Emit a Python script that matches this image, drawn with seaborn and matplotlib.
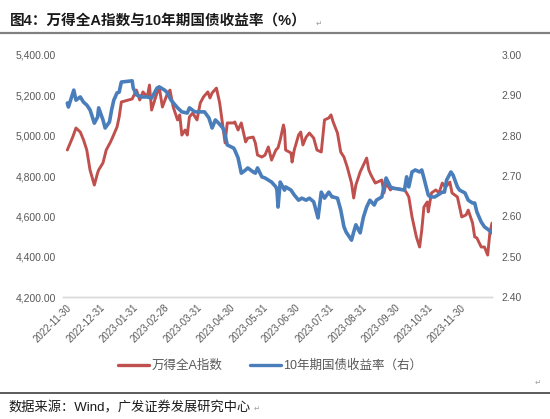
import pandas as pd
import numpy as np
import matplotlib
matplotlib.use('Agg')
import matplotlib.pyplot as plt
import matplotlib.ticker as mticker
from matplotlib.lines import Line2D
import seaborn as sns

# 万得全A指数 (left axis)
wind_dates = ['2022-12-01', '2022-12-06', '2022-12-09', '2022-12-13', '2022-12-16', '2022-12-19',
              '2022-12-22', '2022-12-26', '2022-12-29', '2022-12-30', '2023-01-03', '2023-01-06',
              '2023-01-10', '2023-01-12', '2023-01-16', '2023-01-18', '2023-01-20', '2023-01-30',
              '2023-02-03', '2023-02-06', '2023-02-09', '2023-02-13', '2023-02-15', '2023-02-17',
              '2023-02-22', '2023-02-24', '2023-02-27', '2023-03-03', '2023-03-06', '2023-03-09',
              '2023-03-13', '2023-03-15', '2023-03-17', '2023-03-20', '2023-03-22', '2023-03-24',
              '2023-03-27', '2023-03-31', '2023-04-03', '2023-04-06', '2023-04-10', '2023-04-12',
              '2023-04-14', '2023-04-18', '2023-04-21', '2023-04-24', '2023-04-26', '2023-04-28',
              '2023-05-04', '2023-05-05', '2023-05-08', '2023-05-11', '2023-05-15', '2023-05-17',
              '2023-05-22', '2023-05-24', '2023-05-26', '2023-05-30', '2023-06-02', '2023-06-05',
              '2023-06-08', '2023-06-12', '2023-06-14', '2023-06-16', '2023-06-19', '2023-06-20',
              '2023-06-21', '2023-06-26', '2023-06-27', '2023-06-29', '2023-07-03', '2023-07-05',
              '2023-07-07', '2023-07-10', '2023-07-13', '2023-07-17', '2023-07-20', '2023-07-24',
              '2023-07-26', '2023-07-27', '2023-07-31', '2023-08-02', '2023-08-04', '2023-08-08',
              '2023-08-11', '2023-08-14', '2023-08-17', '2023-08-21', '2023-08-23', '2023-08-25',
              '2023-08-29', '2023-09-01', '2023-09-04', '2023-09-06', '2023-09-08', '2023-09-12',
              '2023-09-14', '2023-09-18', '2023-09-20', '2023-09-22', '2023-09-26', '2023-09-28',
              '2023-10-09', '2023-10-11', '2023-10-13', '2023-10-16', '2023-10-20', '2023-10-23',
              '2023-10-25', '2023-10-27', '2023-10-30', '2023-10-31', '2023-11-03', '2023-11-07',
              '2023-11-10', '2023-11-13', '2023-11-16', '2023-11-20', '2023-11-22', '2023-11-27',
              '2023-11-28', '2023-12-01', '2023-12-05', '2023-12-07', '2023-12-11', '2023-12-13',
              '2023-12-15', '2023-12-19', '2023-12-22', '2023-12-25', '2023-12-27', '2023-12-29']
wind_vals = [4929, 4993, 5038, 5018, 4979, 4929,
             4830, 4755, 4815, 4830, 4865, 4929,
             4969, 4993, 5043, 5093, 5167, 5182,
             5226, 5177, 5217, 5192, 5251, 5127,
             5212, 5241, 5142, 5200, 5226, 5142,
             5078, 5103, 5003, 5028, 5003, 5093,
             5112, 5078, 5162, 5192, 5217, 5187,
             5212, 5236, 5162, 5043, 4964, 5063,
             5063, 5068, 5028, 5063, 4969, 4988,
             4993, 4964, 4904, 4894, 4904, 4944,
             4879, 4929, 4940, 4979, 5053, 5028,
             4929, 4914, 4869, 4929, 5003, 5018,
             4954, 4993, 5013, 4988, 4929, 4919,
             5028, 5078, 5088, 5103, 5068, 5013,
             4919, 4894, 4845, 4765, 4691, 4755,
             4820, 4855, 4889, 4830, 4805, 4765,
             4770, 4780, 4716, 4765, 4731, 4741,
             4731, 4716, 4696, 4597, 4498, 4448,
             4532, 4646, 4671, 4622, 4716, 4731,
             4716, 4765, 4745, 4770, 4716, 4696,
             4671, 4597, 4607, 4631, 4567, 4498,
             4493, 4448, 4448, 4408, 4517, 4567]

# 10年期国债收益率 (right axis)
bond_dates = ['2022-12-01', '2022-12-02', '2022-12-07', '2022-12-09', '2022-12-13', '2022-12-16',
              '2022-12-19', '2022-12-22', '2022-12-26', '2022-12-29', '2022-12-30', '2023-01-03',
              '2023-01-05', '2023-01-09', '2023-01-11', '2023-01-13', '2023-01-16', '2023-01-18',
              '2023-01-19', '2023-01-20', '2023-01-30', '2023-01-31', '2023-02-03', '2023-02-08',
              '2023-02-13', '2023-02-17', '2023-02-22', '2023-02-24', '2023-03-01', '2023-03-03',
              '2023-03-07', '2023-03-13', '2023-03-17', '2023-03-22', '2023-03-24', '2023-03-29',
              '2023-04-03', '2023-04-07', '2023-04-11', '2023-04-14', '2023-04-17', '2023-04-20',
              '2023-04-24', '2023-04-26', '2023-04-28', '2023-05-04', '2023-05-05', '2023-05-08',
              '2023-05-11', '2023-05-15', '2023-05-17', '2023-05-22', '2023-05-24', '2023-05-26',
              '2023-05-30', '2023-06-02', '2023-06-05', '2023-06-08', '2023-06-12', '2023-06-13',
              '2023-06-14', '2023-06-16', '2023-06-19', '2023-06-20', '2023-06-21', '2023-06-26',
              '2023-06-29', '2023-07-03', '2023-07-06', '2023-07-10', '2023-07-13', '2023-07-17',
              '2023-07-19', '2023-07-21', '2023-07-24', '2023-07-27', '2023-07-31', '2023-08-03',
              '2023-08-04', '2023-08-08', '2023-08-11', '2023-08-14', '2023-08-16', '2023-08-21',
              '2023-08-23', '2023-08-25', '2023-08-29', '2023-09-01', '2023-09-04', '2023-09-07',
              '2023-09-11', '2023-09-13', '2023-09-18', '2023-09-20', '2023-09-22', '2023-09-26',
              '2023-09-28', '2023-10-09', '2023-10-11', '2023-10-13', '2023-10-16', '2023-10-19',
              '2023-10-23', '2023-10-25', '2023-10-27', '2023-10-31', '2023-11-02', '2023-11-06',
              '2023-11-09', '2023-11-13', '2023-11-15', '2023-11-17', '2023-11-21', '2023-11-23',
              '2023-11-27', '2023-11-29', '2023-12-04', '2023-12-07', '2023-12-11', '2023-12-13',
              '2023-12-15', '2023-12-19', '2023-12-22', '2023-12-26', '2023-12-29']
bond_vals = [2.881, 2.871, 2.913, 2.888, 2.896, 2.883,
             2.876, 2.864, 2.831, 2.846, 2.869, 2.839,
             2.819, 2.834, 2.864, 2.888, 2.906, 2.908,
             2.921, 2.933, 2.936, 2.918, 2.901, 2.896,
             2.896, 2.893, 2.918, 2.921, 2.913, 2.908,
             2.888, 2.869, 2.859, 2.856, 2.869, 2.859,
             2.859, 2.859, 2.844, 2.819, 2.839, 2.831,
             2.819, 2.802, 2.777, 2.769, 2.764, 2.745,
             2.707, 2.715, 2.720, 2.710, 2.707, 2.720,
             2.698, 2.695, 2.690, 2.685, 2.673, 2.665,
             2.623, 2.685, 2.670, 2.665, 2.673, 2.665,
             2.653, 2.640, 2.645, 2.640, 2.645, 2.636,
             2.616, 2.596, 2.660, 2.645, 2.660, 2.648,
             2.648, 2.645, 2.616, 2.574, 2.561, 2.541,
             2.561, 2.579, 2.559, 2.598, 2.623, 2.640,
             2.628, 2.640, 2.648, 2.673, 2.695, 2.673,
             2.670, 2.665, 2.698, 2.673, 2.710, 2.715,
             2.710, 2.715, 2.695, 2.653, 2.648, 2.648,
             2.653, 2.660, 2.660, 2.690, 2.710, 2.702,
             2.673, 2.665, 2.658, 2.640, 2.633, 2.633,
             2.611, 2.586, 2.574, 2.566, 2.559]

tick_dates = ['2022-11-30', '2022-12-31', '2023-01-31', '2023-02-28', '2023-03-31', '2023-04-30',
              '2023-05-31', '2023-06-30', '2023-07-31', '2023-08-31', '2023-09-30', '2023-10-31',
              '2023-11-30']

red = '#C0504D'
blue = '#4A7EBB'
gray_txt = '#595959'

sns.set_style('white')
plt.rcParams['font.family'] = ['Liberation Sans', 'Noto Sans CJK SC', 'DejaVu Sans']

df_w = pd.DataFrame({'date': pd.to_datetime(wind_dates), 'val': wind_vals})
df_b = pd.DataFrame({'date': pd.to_datetime(bond_dates), 'val': bond_vals})

fig = plt.figure(figsize=(5.5, 4.19), dpi=100)
ax = fig.add_axes([63 / 550, 1 - 297 / 419, 429 / 550, 242 / 419])
ax2 = ax.twinx()

sns.lineplot(data=df_w, x='date', y='val', ax=ax, color=red, linewidth=2.1, label='万得全A指数', legend=False)
sns.lineplot(data=df_b, x='date', y='val', ax=ax2, color=blue, linewidth=2.6, label='10年期国债收益率（右）', legend=False)

ax.set_ylim(4200, 5400)
ax.set_yticks(np.arange(4200, 5401, 200))
ax.yaxis.set_major_formatter(mticker.FuncFormatter(lambda v, p: f'{v:,.2f}'))
ax2.set_ylim(2.4, 3.0)
ax2.set_yticks(np.arange(2.4, 3.001, 0.1))
ax2.yaxis.set_major_formatter(mticker.FuncFormatter(lambda v, p: f'{v:.2f}'))

ax.set_xlim(pd.Timestamp('2022-11-27'), pd.Timestamp('2023-12-29'))
ticks = pd.to_datetime(tick_dates)
ax.set_xticks(ticks)
ax.set_xticklabels([t.strftime('%Y-%m-%d') for t in ticks], rotation=45, ha='right',
                   rotation_mode='anchor', fontsize=7, color=gray_txt)

ax.set_xlabel('')
ax.set_ylabel('')
ax2.set_ylabel('')
ax.tick_params(axis='y', length=0, pad=5, labelsize=7.5, labelcolor=gray_txt)
ax2.tick_params(axis='y', length=0, pad=7, labelsize=7.5, labelcolor=gray_txt)
ax.tick_params(axis='x', length=0, pad=4)

for a in (ax, ax2):
    for s in ('top', 'left', 'right'):
        a.spines[s].set_visible(False)
    a.spines['bottom'].set_color('#D9D9D9')
    a.spines['bottom'].set_linewidth(1.0)
    a.grid(False)
    a.patch.set_alpha(0)

handles = [Line2D([0], [0], color=red, lw=2.4), Line2D([0], [0], color=blue, lw=2.4)]
fig.legend(handles, ['万得全A指数', '10年期国债收益率（右）'], loc='center',
           bbox_to_anchor=(270 / 550, 1 - 366 / 419), ncol=2, frameon=False,
           fontsize=9, handlelength=2.5, columnspacing=2.2, handletextpad=0.2,
           labelcolor=gray_txt)

# title, rules and source note
fig.text(10 / 550, 1 - 21 / 419, '图4：万得全A指数与10年期国债收益率（%）', fontsize=10.5,
         fontweight='bold', va='center', ha='left', color='#1a1a1a')
fig.text(316 / 550, 1 - 23 / 419, '↵', fontsize=5.5, va='center', color='#a0a0a0',
         family=['DejaVu Sans'])
fig.add_artist(Line2D([0, 1], [1 - 33 / 419] * 2, color='#808080', lw=1.6))
fig.add_artist(Line2D([0, 1], [1 - 393 / 419] * 2, color='#404040', lw=1.2))
fig.text(535 / 550, 1 - 382 / 419, '↵', fontsize=5.5, va='center', color='#a0a0a0',
         family=['DejaVu Sans'])
fig.text(8 / 550, 1 - 408 / 419, '数据来源：Wind，广发证券发展研究中心', fontsize=9.5,
         va='center', ha='left', color='#1a1a1a')
fig.text(254 / 550, 1 - 408 / 419, '↵', fontsize=5.5, va='center', color='#a0a0a0',
         family=['DejaVu Sans'])

fig.savefig('out.png', dpi=100, facecolor='white')
